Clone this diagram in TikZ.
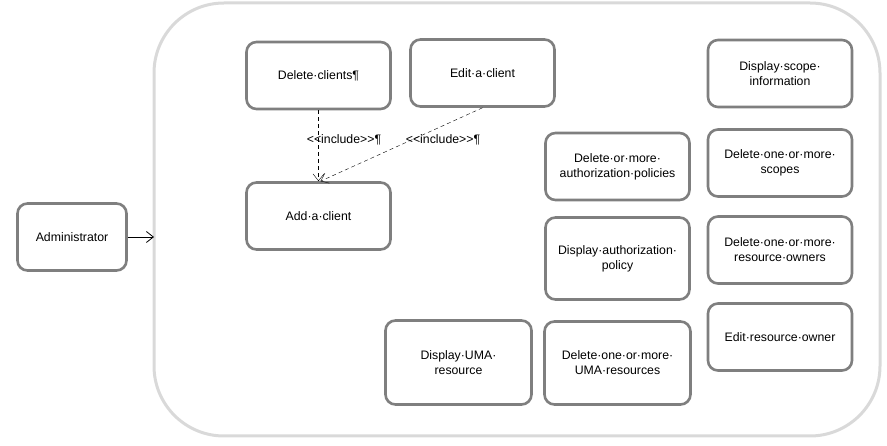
\documentclass[tikz,border=0pt]{standalone}
\usepackage{fontspec}
\setmainfont{Liberation Sans}
\usetikzlibrary{arrows.meta}
\definecolor{boxgray}{HTML}{7F7F7F}
\definecolor{framegray}{HTML}{D9D9D9}
\begin{document}
\begin{tikzpicture}[x=1pt, y=-1pt,
    >={Straight Barb[length=7pt,width=11pt]},
    usecase/.style={draw=boxgray, line width=2.6pt, rounded corners=10pt, fill=white,
        minimum width=144pt, minimum height=67pt, inner sep=0pt, align=center,
        font=\fontsize{12.3}{15}\selectfont},
    incl/.style={font=\fontsize{12.3}{14}\selectfont, inner sep=1pt}]
\useasboundingbox (0,0) rectangle (887,446);
% system boundary
\draw[framegray, line width=3pt, rounded corners=70pt] (154,3) rectangle (880,436);

\node[usecase, minimum width=109pt] (admin) at (72,237) {Administrator};
\draw[->, line width=0.8pt] (admin.east) -- (154,237);

% client use cases
\node[usecase] (delclients) at (318.5,75.5) {Delete·clients¶};
\node[usecase] (editclient) at (482.5,73) {Edit·a·client};
\node[usecase] (addclient) at (318.5,216) {Add·a·client};
\draw[->, dashed, dash pattern=on 4pt off 3pt] (delclients.south) -- (addclient.north);
\draw[->, dashed, dash pattern=on 4pt off 3pt] (editclient.south) -- ([xshift=2pt]addclient.north);
\node[incl] at (344,140) {{<}{<}include{>}{>}¶};
\node[incl] at (443,140) {{<}{<}include{>}{>}¶};

% authorization policies
\node[usecase] (delpolicies) at (617.5,166.5) {Delete·or·more·\\authorization·policies};
\node[usecase, minimum height=82pt] (showpolicy) at (617.5,258.5) {Display·authorization·\\policy};

% scopes and resource owners
\node[usecase] (showscope) at (780,73.5) {Display·scope·\\information};
\node[usecase] (delscopes) at (780,163) {Delete·one·or·more·\\scopes};
\node[usecase] (delowners) at (780,250) {Delete·one·or·more·\\resource·owners};
\node[usecase] (editowner) at (780,337) {Edit·resource·owner};

% UMA resources
\node[usecase, minimum width=146pt, minimum height=84pt] (showuma) at (458.5,362.5) {Display·UMA·\\resource};
\node[usecase, minimum width=146pt, minimum height=83pt] (deluma) at (617.5,363) {Delete·one·or·more·\\UMA·resources};
\end{tikzpicture}
\end{document}
